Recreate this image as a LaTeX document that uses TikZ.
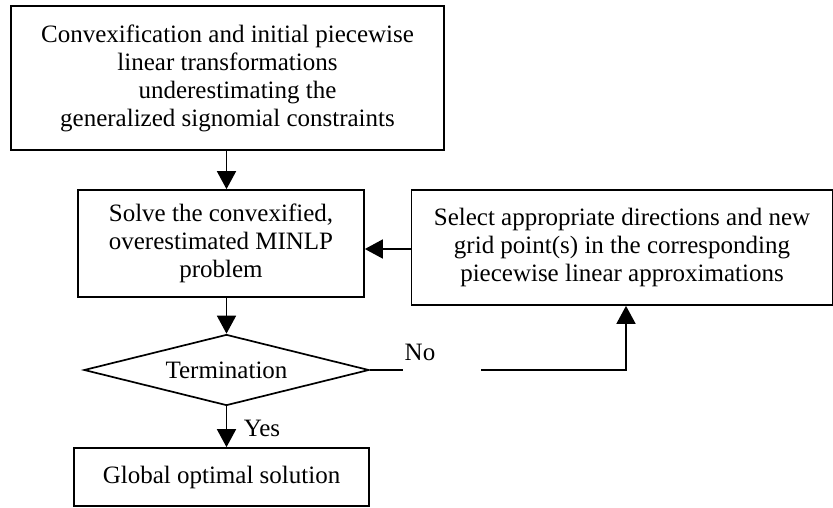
\documentclass[tikz,border=0pt]{standalone}
\usepackage{fontspec}
\setmainfont{Liberation Serif}
\usetikzlibrary{shapes.geometric,arrows.meta}
\begin{document}
\begin{tikzpicture}[x=1pt,y=-1pt,
  txt/.style={font=\fontsize{25}{28}\selectfont},
  box/.style={draw, line width=1.7pt, align=center, inner sep=0pt, txt},
  arr/.style={line width=1.7pt, -{Triangle[length=18pt,width=19pt]}},
  conn/.style={line width=1.7pt}]
\useasboundingbox (0,0) rectangle (833,507);
\node[box, minimum width=433pt, minimum height=144pt] (top) at (227.5,78)
  {Convexification and initial piecewise\\linear transformations\\\hspace*{20pt}underestimating the\\generalized signomial constraints};
\node[box, minimum width=286pt, minimum height=107pt] (solve) at (221,243.5)
  {Solve the convexified,\\overestimated MINLP\\problem};
\node[box, minimum width=421pt, minimum height=115pt] (select) at (622,247.5)
  {Select appropriate directions and new\\grid point(s) in the corresponding\\piecewise linear approximations};
\node[draw, line width=1.7pt, shape=diamond, aspect=4, inner sep=0pt, txt,
  minimum width=285pt, minimum height=71pt] (diam) at (226.5,370) {Termination};
\node[box, minimum width=295pt, minimum height=58pt] (glob) at (221.5,477)
  {Global optimal solution};
\node[txt, anchor=center] (yes) at (262,428) {Yes};
\node[txt, anchor=center] (no) at (420,352) {No};
\coordinate (noA) at (403,370);
\coordinate (noB) at (481,370);
\coordinate (noC) at (626,370);
\draw[arr] (diam.north |- top.south) -- (diam.north |- solve.north);
\draw[arr] (select.west |- 0,249) -- (solve.east |- 0,249);
\draw[arr] (diam.north |- solve.south) -- (diam.north);
\draw[arr] (diam.south) -- (diam.south |- glob.north);
\draw[conn] (diam.east) -- (noA);
\draw[arr] (noB) -- (noC) -- (noC |- select.south);
\end{tikzpicture}
\end{document}
